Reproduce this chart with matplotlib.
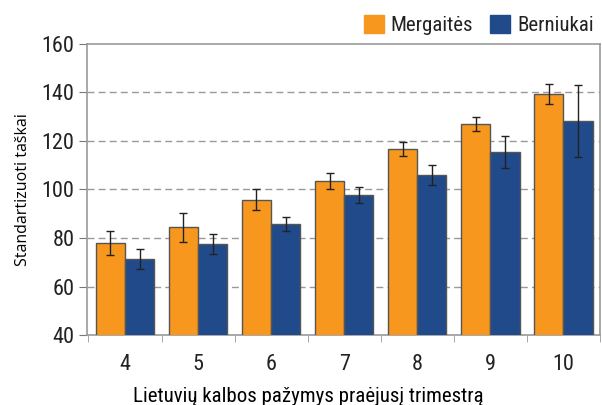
import numpy as np
import matplotlib
matplotlib.use("Agg")
import matplotlib.pyplot as plt
from matplotlib.patches import Patch

plt.rcParams['font.family'] = ['Roboto Condensed', 'Archivo Narrow', 'DejaVu Sans']
plt.rcParams['text.color'] = '#222222'
plt.rcParams['xtick.labelcolor'] = '#222222'
plt.rcParams['ytick.labelcolor'] = '#222222'

grades = ['4', '5', '6', '7', '8', '9', '10']
girls = [78, 84.5, 95.7, 103.5, 116.7, 127, 139.4]
girls_err = [5, 6, 4.3, 3.5, 3, 2.7, 4]
boys = [71.3, 77.5, 85.8, 97.7, 106, 115.5, 128.2]
boys_err = [4, 4, 3, 3.3, 4, 6.5, 15]

fig = plt.figure(figsize=(6.02, 4.05), dpi=100)
ax = fig.add_axes([0.1445, 0.1728, 0.852, 0.7186])

x = np.arange(len(grades))
w = 0.4
orange = '#F7971E'
blue = '#214A8A'
ax.bar(x - w/2, girls, w, color=orange, edgecolor='#555555', linewidth=1, zorder=3)
ax.bar(x + w/2, boys, w, color=blue, edgecolor='#555555', linewidth=1, zorder=3)
ax.errorbar(x - w/2, girls, yerr=girls_err, fmt='none', ecolor='#222222',
            elinewidth=1, capsize=3, capthick=1, zorder=4)
ax.errorbar(x + w/2, boys, yerr=boys_err, fmt='none', ecolor='#222222',
            elinewidth=1, capsize=3, capthick=1, zorder=4)

ax.set_xlim(-0.52, 6.5)
ax.set_ylim(40, 160)
ax.set_yticks(range(40, 161, 20))
for y in range(60, 160, 20):
    ax.axhline(y, color='#999999', linestyle=(0, (5, 3)), linewidth=1, zorder=1)

ax.set_xticks(x)
ax.set_xticklabels(grades)
ax.set_xticks(np.arange(-0.5, 6.6, 1), minor=True)
ax.tick_params(axis='x', which='major', length=0, labelsize=16, pad=14)
ax.tick_params(axis='x', which='minor', length=5, color='#999999')
ax.tick_params(axis='y', labelsize=16, length=6, pad=3, color='#777777')
for s in ax.spines.values():
    s.set_color('#999999')
    s.set_linewidth(1.2)

ax.set_ylabel('Standartizuoti taškai', fontsize=11.5, labelpad=8, family='Open Sans')
ax.set_xlabel('Lietuvių kalbos pažymys praėjusį trimestrą', fontsize=15)
ax.xaxis.set_label_coords(0.432, -0.178)

handles = [Patch(color=orange, label='Mergaitės'), Patch(color=blue, label='Berniukai')]
fig.legend(handles=handles, loc='center right', bbox_to_anchor=(1.0, 0.938), ncol=2,
           frameon=False, fontsize=15, handlelength=0.95, handleheight=0.95,
           handletextpad=0.35, columnspacing=0.8, borderaxespad=0)

fig.savefig('out.png', dpi=100)
